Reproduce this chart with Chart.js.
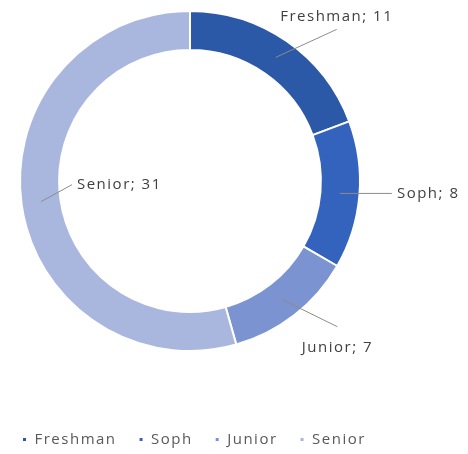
<!DOCTYPE html>
<html>
<head>
<meta charset="utf-8">
<script src="https://cdn.jsdelivr.net/npm/chart.js@4"></script>
<style>
  html, body { margin: 0; padding: 0; background: #fff; }
  #wrap { width: 468px; height: 454px; position: relative; }
</style>
</head>
<body>
<div id="wrap"><canvas id="classChart"></canvas></div>
<script>
// === Data ===
const classes = ["Freshman", "Soph", "Junior", "Senior"];
const students = [11, 8, 7, 31];
const sliceColors = ["#2c58a8", "#3463bd", "#7c93d2", "#a9b7df"];

// where each leader line ends, relative to the middle of its slice
const leaderOffsets = [[61, -28], [52, 0], [55, 27], [31, -17]];

// === Empty layout boxes (room for callouts on the right, gap above legend) ===
function addGap(chart, position, size, weight, fullSize) {
  Chart.layouts.addBox(chart, {
    position, weight, fullSize,
    options: {},
    isHorizontal() { return position === "top" || position === "bottom"; },
    update(maxWidth, maxHeight) {
      if (this.isHorizontal()) { this.width = maxWidth; this.height = size; }
      else { this.width = size; this.height = maxHeight; }
    },
    draw() {}
  });
}

const gapPlugin = {
  id: "gaps",
  beforeInit(chart) {
    addGap(chart, "right", 88, 0, false);
    addGap(chart, "bottom", 58, 500, true);
  }
};

// loose letter spacing for all text on the canvas
const spacingPlugin = {
  id: "spacing",
  beforeLayout(chart) { chart.ctx.letterSpacing = "1.5px"; },
  beforeDraw(chart) { chart.ctx.letterSpacing = "1.5px"; }
};

// === Callout labels with leader lines ===
const calloutPlugin = {
  id: "callouts",
  afterDatasetsDraw(chart) {
    const ctx = chart.ctx;
    const arcs = chart.getDatasetMeta(0).data;
    ctx.save();
    ctx.font = "15px 'Open Sans'";
    ctx.fillStyle = "#404040";
    ctx.strokeStyle = "#8c8c8c";
    ctx.lineWidth = 1;
    arcs.forEach((arc, i) => {
      const mid = (arc.startAngle + arc.endAngle) / 2;
      const r = (arc.innerRadius + arc.outerRadius) / 2;
      const sx = arc.x + Math.cos(mid) * r;
      const sy = arc.y + Math.sin(mid) * r;
      const ex = sx + leaderOffsets[i][0];
      const ey = sy + leaderOffsets[i][1];

      ctx.beginPath();
      ctx.moveTo(sx, sy);
      ctx.lineTo(ex, ey);
      ctx.stroke();

      const text = classes[i] + "; " + students[i];
      ctx.textBaseline = "middle";
      if (i === 0) {
        ctx.textAlign = "center";
        ctx.fillText(text, ex, ey - 13);
      } else if (i === 2) {
        ctx.textAlign = "center";
        ctx.fillText(text, ex, ey + 21);
      } else {
        ctx.textAlign = "left";
        ctx.fillText(text, ex + 5, ey);
      }
    });
    ctx.restore();
  }
};

// === Chart ===
const ctx = document.getElementById("classChart").getContext("2d");
const classChart = new Chart(ctx, {
  type: "doughnut",
  data: {
    labels: classes,
    datasets: [{
      data: students,
      backgroundColor: sliceColors,
      borderColor: "#ffffff",
      borderWidth: 2
    }]
  },
  options: {
    responsive: true,
    maintainAspectRatio: false,
    animation: false,
    cutout: "77%",
    layout: { padding: { top: 10, right: 0, left: 0, bottom: -3 } },
    plugins: {
      tooltip: { enabled: false },
      legend: {
        position: "bottom",
        align: "start",
        labels: {
          boxWidth: 5,
          boxHeight: 5,
          padding: 22,
          color: "#595959",
          font: { family: "'Open Sans'", size: 15 }
        }
      }
    }
  },
  plugins: [gapPlugin, spacingPlugin, calloutPlugin]
});
</script>
</body>
</html>
